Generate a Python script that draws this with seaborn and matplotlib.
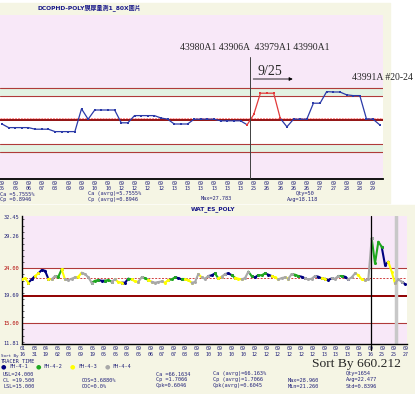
import numpy as np
import pandas as pd
import seaborn as sns
import matplotlib
matplotlib.use('Agg')
import matplotlib.pyplot as plt
from matplotlib.patches import Rectangle
from matplotlib.ticker import MultipleLocator

################################################################################
# top chart : lot trend
top_title = 'DCOPHD-POLY膜厚量測1_80X圖片'
top_month = ['09'] * 29
top_day = ['05', '05', '06', '07', '08', '09', '09', '10', '10', '12', '12',
           '12', '12', '13', '13', '13', '13', '13', '13', '25', '26', '26',
           '26', '26', '27', '27', '28', '28', '29']
top_vals = [17.0, 16.1, 16.1, 16.1, 16.1, 15.7, 15.7, 15.7, 15.1, 15.1,
            15.1, 15.1, 20.8, 18.2, 20.5, 20.5, 20.5, 20.5, 17.3, 17.3,
            19.1, 19.1, 19.1, 19.1, 18.5, 18.2, 17.0, 17.0, 17.0, 18.2,
            18.2, 18.2, 18.2, 17.8, 17.8, 17.8, 17.8, 16.8, 19.4, 24.7,
            24.7, 24.7, 18.4, 16.3, 18.2, 18.2, 18.2, 22.2, 22.2, 25.1,
            25.0, 25.0, 24.3, 24.1, 24.1, 18.3, 18.2, 16.8]
top_red_from, top_red_to = 37, 42
top_usl, top_ucl, top_cl, top_lcl, top_lsl, top_avg = 26, 24, 18, 12, 10, 18.5
top_lots = '43980A1 43906A  43979A1 43990A1'
top_lot_last = '43991A #20-24'
top_mark = '9/25'

################################################################################
# bottom chart : WAT by tool
bot_title = 'WAT_ES_POLY'
bot_month = ['01', '03', '04', '05', '05', '05', '05'] + ['09'] * 27
bot_day = ['16', '31', '19', '02', '03', '09', '19', '05', '05', '05', '05',
           '06', '07', '07', '08', '08', '10', '10', '10', '10', '12', '12',
           '12', '12', '12', '12', '13', '13', '13', '15', '16', '25', '25',
           '27']
bot_tools = ['FH-4-1', 'FH-4-2', 'FH-4-3', 'FH-4-4']
bot_colors = ['#000080', '#1fa81f', '#ffff00', '#a8a8a8']
bot_seq = ('3311311134' '2234443344' '4221122433' '1123342234' '4433221123'
           '3443441123' '4112334421' '1221133443' '4221144411' '3114421144'
           '3334422211' '334411')
bot_vals = [22.19, 22.36, 21.65, 22.19, 22.74, 23.17, 23.72, 23.61, 22.30, 22.19,
            22.74, 22.63, 23.83, 22.19, 22.08, 22.30, 22.52, 22.63, 23.28, 23.06,
            22.52, 21.65, 21.97, 22.08, 21.97, 21.97, 22.08, 21.81, 22.19, 21.76,
            21.65, 21.65, 22.30, 22.19, 21.86, 21.81, 22.52, 22.41, 22.08, 21.81,
            21.65, 21.76, 21.86, 21.65, 22.08, 22.19, 22.52, 22.41, 22.19, 22.19,
            22.08, 21.65, 21.76, 23.06, 22.52, 22.30, 22.74, 22.85, 23.17, 22.36,
            22.63, 23.06, 23.17, 22.90, 22.46, 22.30, 22.19, 22.41, 23.45, 22.74,
            22.52, 22.90, 22.85, 23.17, 22.96, 22.74, 22.52, 22.19, 22.41, 22.52,
            22.30, 23.06, 22.96, 22.74, 22.63, 22.36, 22.19, 22.30, 22.74, 22.63,
            22.36, 22.30, 22.08, 22.36, 22.30, 22.74, 22.74, 22.63, 22.19, 22.52,
            23.17, 22.90, 22.19, 22.08, 22.19, 28.90, 24.81, 28.35, 27.54, 24.54,
            25.08, 23.45, 21.54, 22.19, 21.81, 21.43]
bot_usl, bot_cl, bot_lsl, bot_avg = 24.0, 19.5, 15.0, 22.477
bot_yticks = [11.81, 15.00, 19.69, 24.00, 29.26, 32.45]
bot_sort = 'Sort By 660.212'

################################################################################
W, H = 415, 394
PINK = '#f8e8f8'
GREEN = '#e3f3e3'
BEIGE = '#f5f5e4'
LIMIT = '#b03a3a'
NAVY = '#23237a'
MONO = 'DejaVu Sans Mono'
SERIF = 'Liberation Serif'

sns.set_style('white')
plt.rcParams['font.family'] = ['DejaVu Sans', 'Noto Sans CJK TC']


def fx(x):
    return x / W


def fy(y):
    return 1 - y / H


fig = plt.figure(figsize=(W / 100, H / 100), dpi=100)
fig.patch.set_facecolor('white')
fig.patches.append(Rectangle((0, fy(203)), fx(390), fy(3) - fy(203),
                             transform=fig.transFigure, color=BEIGE, zorder=-5))
fig.patches.append(Rectangle((0, 0), 1, fy(205),
                             transform=fig.transFigure, color=BEIGE, zorder=-5))

# ##################################### top chart
ax1 = fig.add_axes([0, fy(179), fx(383), fy(15) - fy(179)])
ax1.set_facecolor(PINK)
ax1.axhspan(top_ucl, top_usl, color=GREEN, zorder=0)
ax1.axhspan(top_lsl, top_lcl, color=GREEN, zorder=0)
ax1.axhspan(top_lcl, top_ucl, color='white', zorder=0)
for lv in (top_usl, top_ucl, top_lcl, top_lsl):
    ax1.axhline(lv, color=LIMIT, lw=0.8, zorder=1)
ax1.axhline(top_cl, color='#8a0000', lw=1.3, zorder=1)
ax1.axhline(top_avg, color='#ff8a8a', lw=0.7, ls=(0, (2, 1)), zorder=1)

rows = []
for i, v in enumerate(top_vals):
    if i <= top_red_from:
        rows.append((i / 2, v, 'blue', 0))
    if top_red_from <= i <= top_red_to:
        rows.append((i / 2, v, 'red', 1))
    if i >= top_red_to:
        rows.append((i / 2, v, 'blue', 2))
df_top = pd.DataFrame(rows, columns=['x', 'val', 'col', 'seg'])
sns.lineplot(data=df_top, x='x', y='val', hue='col', units='seg',
             estimator=None, sort=False, legend=False, ax=ax1,
             palette={'blue': '#2b3aa8', 'red': '#e23a3a'},
             lw=0.9, marker='s', markersize=1.8, markeredgewidth=0, zorder=3)

ax1.set_xlim(-0.15, 28.75)
ax1.set_ylim(3.25, 44.25)
ax1.set_yticks([])
ax1.set_xticks(np.arange(len(top_day)))
ax1.set_xticklabels([m + '\n' + d for m, d in zip(top_month, top_day)],
                    fontsize=3.6, family=MONO, color=NAVY, linespacing=1.0)
ax1.tick_params(axis='x', direction='in', length=2, width=0.6, pad=1.5,
                colors='black', labelcolor=NAVY)
ax1.set_xlabel('')
ax1.set_ylabel('')
for s in ('left', 'top', 'right'):
    ax1.spines[s].set_visible(False)
ax1.spines['bottom'].set_color('black')
ax1.spines['bottom'].set_linewidth(1.3)

mark_x = (top_red_from + 0.5) / 2
ax1.plot([mark_x, mark_x], [3.25, 33.75], color='#404040', lw=0.7, zorder=4)
ax1.annotate('', xy=(mark_x + 3.4, 28.25), xytext=(mark_x, 28.25),
             arrowprops=dict(arrowstyle='-|>', color='black', lw=0.6,
                             mutation_scale=5))
ax1.text(mark_x + 0.55, 30.2, top_mark, family=SERIF, fontsize=10,
         ha='left', va='center')
ax1.text(13.4, 36.25, top_lots, family=SERIF, fontsize=7, ha='left',
         va='center')
ax1.text(26.4, 28.5, top_lot_last, family=SERIF, fontsize=7, ha='left',
         va='center', clip_on=False)

fig.text(fx(37), fy(8), top_title, fontsize=4.3, fontweight='bold',
         color='#1a1a8a', va='center')
tiny = dict(fontsize=3.8, family=MONO, color=NAVY, va='center')
fig.text(fx(0), fy(194), 'Ca =5.7555%', **tiny)
fig.text(fx(0), fy(199), 'Cp =0.8946', **tiny)
fig.text(fx(88), fy(194), 'Ca (avrg)=5.7555%', **tiny)
fig.text(fx(88), fy(199), 'Cp (avrg)=0.8946', **tiny)
fig.text(fx(201), fy(199), 'Max=27.783', **tiny)
fig.text(fx(296), fy(194), 'Qty=50', **tiny)
fig.text(fx(287), fy(199), 'Avg=18.118', **tiny)

# ##################################### bottom chart
ax2 = fig.add_axes([fx(22), fy(344), fx(407) - fx(22), fy(216) - fy(344)])
ax2.set_facecolor(PINK)
ax2.axhspan(bot_lsl, bot_usl, color='white', zorder=0)
ax2.axhline(bot_usl, color=LIMIT, lw=0.8, zorder=1)
ax2.axhline(bot_lsl, color=LIMIT, lw=0.8, zorder=1)
ax2.axhline(bot_cl, color='#900000', lw=1.4, zorder=1)
ax2.axhline(bot_avg, color='#d04040', lw=0.7, ls=(0, (2, 1.5)), zorder=1)

codes = [int(c) - 1 for c in bot_seq]
rows = []
blk = 0
for i, v in enumerate(bot_vals):
    if i > 0 and codes[i] != codes[i - 1]:
        # close previous block on this point so the trace stays connected
        rows.append((i, v, bot_tools[codes[i - 1]], blk))
        blk += 1
    rows.append((i, v, bot_tools[codes[i]], blk))
df_bot = pd.DataFrame(rows, columns=['n', 'val', 'tool', 'blk'])
sns.lineplot(data=df_bot, x='n', y='val', hue='tool', units='blk',
             estimator=None, sort=False, legend=False, ax=ax2,
             palette=dict(zip(bot_tools, bot_colors)), hue_order=bot_tools,
             lw=1.5, marker='o', markersize=2.2, markeredgewidth=0, zorder=3)

bot_xpos = np.linspace(0.31, 115.1, len(bot_day))
ax2.set_xlim(0.1, 115.6)
ax2.set_ylim(11.62, 32.56)
ax2.set_xticks(bot_xpos)
ax2.set_xticklabels([m + '\n' + d for m, d in zip(bot_month, bot_day)],
                    fontsize=3.6, family=MONO, linespacing=1.3)
ax2.set_yticks(bot_yticks)
ax2.set_yticklabels(['%.2f' % v for v in bot_yticks], fontsize=3.8,
                    family=MONO)
for lab, v in zip(ax2.get_yticklabels(), bot_yticks):
    lab.set_color('#b00000' if v in (bot_usl, bot_lsl) else NAVY)
for lab in ax2.get_xticklabels():
    lab.set_color(NAVY)
ax2.yaxis.set_minor_locator(MultipleLocator(1.0))
ax2.tick_params(axis='x', direction='in', length=2, width=0.6, pad=1.5)
ax2.tick_params(axis='y', which='major', direction='in', length=3,
                width=0.6, pad=2)
ax2.tick_params(axis='y', which='minor', direction='in', length=1.5,
                width=0.5, left=True)
ax2.set_xlabel('')
ax2.set_ylabel('')
for s in ('top', 'right'):
    ax2.spines[s].set_visible(False)
for s in ('left', 'bottom'):
    ax2.spines[s].set_color('black')
    ax2.spines[s].set_linewidth(1.0)

ax2.axvline(bot_xpos[32] + 0.6, color='#c8c8c8', lw=2.5, zorder=2)
ax2.axvline(bot_xpos[30], ymin=-0.05, ymax=1.0, color='black', lw=0.9,
            zorder=4, clip_on=False)

fig.text(fx(213), fy(209), bot_title, fontsize=4.2, fontweight='bold',
         color='#1a1a8a', ha='center', va='center')
fig.text(fx(0.5), fy(356), 'Sort By', fontsize=3.1, family=MONO,
         color=NAVY, va='center')
fig.text(fx(1), fy(361), 'TRACER_TIME', **tiny)
for k, (name, col) in enumerate(zip(bot_tools, bot_colors)):
    x0 = 2 + 34.5 * k
    fig.text(fx(x0 - 1), fy(367), '●', fontsize=4.5, color=col, va='center')
    fig.text(fx(x0 + 7), fy(367), name, **tiny)

fig.text(fx(3), fy(374), 'USL=24.000', **tiny)
fig.text(fx(3), fy(380), 'CL =19.500', **tiny)
fig.text(fx(3), fy(386), 'LSL=15.000', **tiny)
fig.text(fx(82), fy(380), 'OOS=3.6880%', **tiny)
fig.text(fx(82), fy(386), 'OOC=0.0%', **tiny)
fig.text(fx(156), fy(374), 'Ca =66.1634', **tiny)
fig.text(fx(156), fy(380), 'Cp =1.7066', **tiny)
fig.text(fx(156), fy(386), 'Cpk=0.6046', **tiny)
fig.text(fx(213), fy(374), 'Ca (avrg)=66.163%', **tiny)
fig.text(fx(213), fy(380), 'Cp (avrg)=1.7066', **tiny)
fig.text(fx(213), fy(386), 'Cpk(avrg)=0.6045', **tiny)
fig.text(fx(288), fy(380), 'Max=28.960', **tiny)
fig.text(fx(288), fy(386), 'Min=21.260', **tiny)
fig.text(fx(346), fy(374), 'Qty=1654', **tiny)
fig.text(fx(346), fy(380), 'Avg=22.477', **tiny)
fig.text(fx(346), fy(386), 'Std=0.8396', **tiny)
fig.text(fx(312), fy(364), bot_sort, family=SERIF, fontsize=9.7,
         ha='left', va='center')

plt.savefig('out.png', dpi=100)
